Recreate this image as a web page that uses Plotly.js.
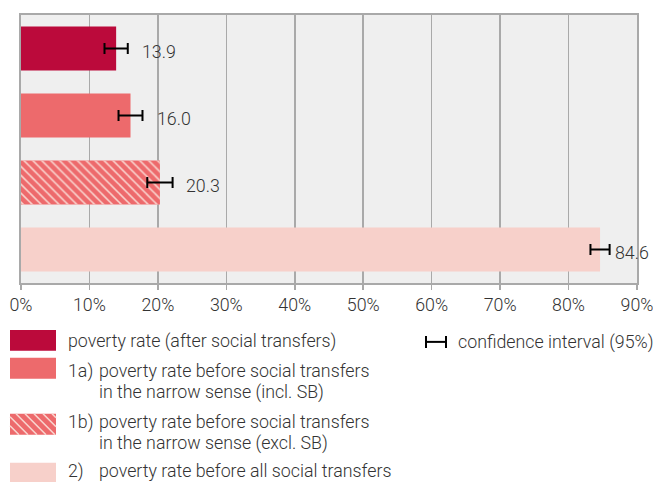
<!DOCTYPE html>
<html>
<head>
<meta charset="utf-8">
<script src="https://cdn.plot.ly/plotly-3.0.1.min.js"></script>
<style>html,body{margin:0;padding:0;background:#fff;}#chart{width:653px;height:482px;}</style>
</head>
<body>
<div id="chart"></div>
<script>
// ---- data ----
var categories = ["poverty rate", "rate 1a", "rate 1b", "rate 2"];
var values = [13.9, 16.0, 20.3, 84.6];
var ciHalf = [1.7, 1.75, 1.85, 1.4];
var valueLabels = ["13.9", "16.0", "20.3", "84.6"];
var barColors = ["#bb0a3b", "#ed6a6c", "#ed6a6c", "#f7d0ca"];
var hatched = [false, false, true, false];
var tickVals = [0, 10, 20, 30, 40, 50, 60, 70, 80, 90];
var tickLabels = ["0%", "10%", "20%", "30%", "40%", "50%", "60%", "70%", "80%", "90%"];
var legendLabels = [
  ["poverty rate (after social transfers)"],
  ["1a)", "poverty rate before social transfers", "in the narrow sense (incl. SB)"],
  ["1b)", "poverty rate before social transfers", "in the narrow sense (excl. SB)"],
  ["2)", "poverty rate before all social transfers"]
];
var ciLabel = "confidence interval (95%)";

// ---- geometry helpers ----
var W = 653, H = 482;
var M = {l: 21, r: 16, t: 14.5, b: 199};
var PW = W - M.l - M.r, PH = H - M.t - M.b;
function px(x) { return (x - M.l) / PW; }
function py(y) { return (H - M.b - y) / PH; }

var FONT = "Roboto, 'Open Sans', sans-serif";
var FS = 17.8;
var TXT = "#333333";
var GRID = "#a9a9a9";
var HATCH = "#f9d5cf";

// solid bars
var barTrace = {
  type: "bar", orientation: "h", y: categories, x: values,
  marker: {color: barColors, line: {width: 0}},
  hoverinfo: "none"
};
// hatch overlay for the hatched bar(s)
var hy = [], hx = [];
for (var j = 0; j < categories.length; j++) {
  if (hatched[j]) { hy.push(categories[j]); hx.push(values[j]); }
}
var hatchTrace = {
  type: "bar", orientation: "h", y: hy, x: hx,
  marker: {
    color: "rgba(0,0,0,0)", line: {width: 0},
    pattern: {shape: "\\", fillmode: "replace", bgcolor: "rgba(0,0,0,0)", fgcolor: HATCH, fgopacity: 1, size: 6.3, solidity: 0.25}
  },
  hoverinfo: "none"
};
// confidence intervals
var ciTrace = {
  type: "scatter", mode: "markers", y: categories, x: values,
  marker: {size: 1, color: "rgba(0,0,0,0)"},
  error_x: {type: "data", array: ciHalf, visible: true, color: "#000000", thickness: 2, width: 5.5},
  hoverinfo: "none"
};

var annotations = [];
for (var i = 0; i < categories.length; i++) {
  annotations.push({
    x: values[i], y: categories[i], xref: "x", yref: "y",
    text: valueLabels[i], showarrow: false, xanchor: "left", yanchor: "middle",
    xshift: values[i] > 80 ? 13 : 24, yshift: -3,
    font: {family: FONT, size: FS, color: TXT, weight: 300}
  });
}

var shapes = [];
// legend swatches
var swatchY = [[330, 351], [358, 379], [414, 435], [463, 484]];
var swatchX = [10, 56];
for (var k = 0; k < 4; k++) {
  shapes.push({type: "rect", xref: "paper", yref: "paper",
    x0: px(swatchX[0]), x1: px(swatchX[1]), y0: py(swatchY[k][1]), y1: py(swatchY[k][0]),
    fillcolor: barColors[k], line: {width: 0}, layer: "above"});
}
// hatch lines for swatch 3 ("\" direction)
(function () {
  var x0 = swatchX[0], x1 = swatchX[1], y0 = swatchY[2][0], y1 = swatchY[2][1];
  var h = y1 - y0, step = 9, path = "";
  for (var s = x0 - h; s < x1; s += step) {
    var ax = s, ay = y0, bx = s + h, by = y1;
    if (ax < x0) { ay = y0 + (x0 - ax); ax = x0; }
    if (bx > x1) { by = y1 - (bx - x1); bx = x1; }
    if (bx <= ax) continue;
    path += "M" + px(ax) + "," + py(ay) + "L" + px(bx) + "," + py(by);
  }
  shapes.push({type: "path", xref: "paper", yref: "paper", path: path,
    line: {color: HATCH, width: 1.6}, layer: "above"});
})();
// confidence-interval icon
var ciY = 342, ciX0 = 426, ciX1 = 446;
shapes.push({type: "line", xref: "paper", yref: "paper", x0: px(ciX0), x1: px(ciX1), y0: py(ciY), y1: py(ciY), line: {color: "#000", width: 2}});
shapes.push({type: "line", xref: "paper", yref: "paper", x0: px(ciX0), x1: px(ciX0), y0: py(ciY - 6), y1: py(ciY + 6), line: {color: "#000", width: 2}});
shapes.push({type: "line", xref: "paper", yref: "paper", x0: px(ciX1), x1: px(ciX1), y0: py(ciY - 6), y1: py(ciY + 6), line: {color: "#000", width: 2}});

// legend texts
function addText(x, y, t) {
  annotations.push({xref: "paper", yref: "paper", x: px(x), y: py(y), text: t, showarrow: false,
    xanchor: "left", yanchor: "middle", font: {family: FONT, size: FS, color: TXT, weight: 300}});
}
addText(66, 341, legendLabels[0][0]);
addText(66, 371, legendLabels[1][0]); addText(97, 371, legendLabels[1][1]); addText(97, 392, legendLabels[1][2]);
addText(66, 422, legendLabels[2][0]); addText(97, 422, legendLabels[2][1]); addText(97, 443, legendLabels[2][2]);
addText(66, 471, legendLabels[3][0]); addText(97, 471, legendLabels[3][1]);
addText(456, 342, ciLabel);

var layout = {
  width: W, height: H,
  margin: M,
  paper_bgcolor: "#ffffff",
  plot_bgcolor: "#efefef",
  showlegend: false,
  barmode: "overlay",
  bargap: 0.345,
  xaxis: {
    range: [0, 90], tickvals: tickVals, ticktext: tickLabels,
    showgrid: true, gridcolor: GRID, gridwidth: 1.5,
    showline: true, linecolor: GRID, linewidth: 2, mirror: true,
    ticks: "outside", ticklen: 5, tickcolor: GRID, tickwidth: 1.5,
    ticklabeloverflow: "allow",
    zeroline: false, fixedrange: true,
    tickfont: {family: FONT, size: FS, color: TXT, weight: 300}
  },
  yaxis: {
    type: "category", categoryorder: "array", categoryarray: categories,
    autorange: "reversed", showticklabels: false,
    showgrid: false, zeroline: false, showline: true, linecolor: GRID, linewidth: 2, mirror: true,
    ticks: "", fixedrange: true
  },
  annotations: annotations,
  shapes: shapes
};

Plotly.newPlot("chart", [barTrace, hatchTrace, ciTrace], layout, {staticPlot: true, displayModeBar: false});
</script>
</body>
</html>
